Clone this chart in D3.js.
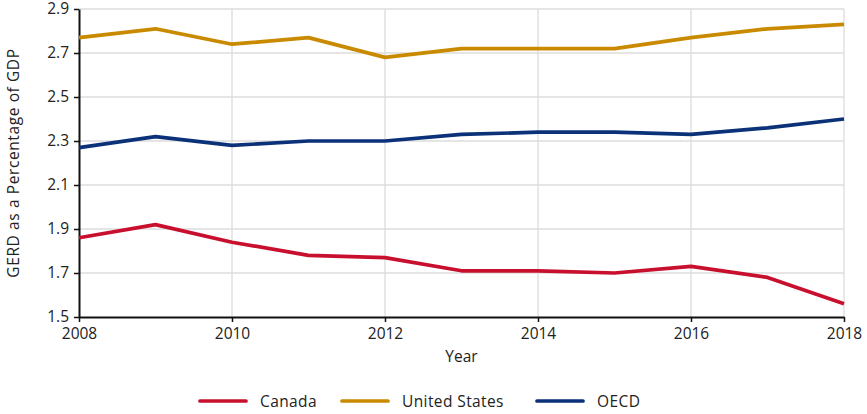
<!DOCTYPE html>
<html>
<head>
<meta charset="utf-8">
<script src="https://cdn.jsdelivr.net/npm/d3@7"></script>
<style>
  body { margin: 0; background: #fff; }
  svg text { font-family: "Open Sans", sans-serif; fill: #222; }
</style>
</head>
<body>
<svg width="867" height="414"></svg>
<script>
var years = [2008, 2009, 2010, 2011, 2012, 2013, 2014, 2015, 2016, 2017, 2018];
var canada = [1.86, 1.92, 1.84, 1.78, 1.77, 1.71, 1.71, 1.70, 1.73, 1.68, 1.56];
var unitedStates = [2.77, 2.81, 2.74, 2.77, 2.68, 2.72, 2.72, 2.72, 2.77, 2.81, 2.83];
var oecd = [2.27, 2.32, 2.28, 2.30, 2.30, 2.33, 2.34, 2.34, 2.33, 2.36, 2.40];
var yTicks = [1.5, 1.7, 1.9, 2.1, 2.3, 2.5, 2.7, 2.9];
var xTicks = [2008, 2010, 2012, 2014, 2016, 2018];

var series = [
    {name: "Canada", values: canada, color: "#c8102e"},
    {name: "United States", values: unitedStates, color: "#c98a00"},
    {name: "OECD", values: oecd, color: "#0b3279"}
];

var svg = d3.select("svg");
var margin = {left: 79, right: 23, top: 9, bottom: 97};
var width = 867 - margin.left - margin.right,
    height = 414 - margin.top - margin.bottom;

var x = d3.scaleLinear().domain([2008, 2018]).range([0, width]);
var y = d3.scaleLinear().domain([1.5, 2.9]).range([height, 0]);

var g = svg.append("g").attr("transform", "translate(" + margin.left + "," + margin.top + ")");

// gridlines
g.append("g").selectAll("line").data(yTicks.slice(1)).enter().append("line")
    .attr("x1", 0).attr("x2", width)
    .attr("y1", d => y(d)).attr("y2", d => y(d))
    .attr("stroke", "#dcdcdc").attr("stroke-width", 1.3);
g.append("g").selectAll("line").data(xTicks.slice(1)).enter().append("line")
    .attr("x1", d => x(d)).attr("x2", d => x(d))
    .attr("y1", 0).attr("y2", height)
    .attr("stroke", "#dcdcdc").attr("stroke-width", 1.3);

// axes
var xAxis = g.append("g").attr("transform", "translate(0," + height + ")")
    .call(d3.axisBottom(x).tickValues(xTicks).tickFormat(d3.format("d")).tickSize(5).tickSizeOuter(0));
var yAxis = g.append("g")
    .call(d3.axisLeft(y).tickValues(yTicks).tickFormat(d3.format(".1f")).tickSize(5).tickSizeOuter(0));

[xAxis, yAxis].forEach(function (a) {
    a.select(".domain").attr("stroke", "#111").attr("stroke-width", 2);
    a.selectAll(".tick line").attr("stroke", "#111").attr("stroke-width", 1.5);
    a.selectAll("text").style("font-size", "15.5px").style("font-family", "Open Sans, sans-serif").attr("fill", "#222");
});
xAxis.selectAll("text").attr("dy", "0.9em");
yAxis.selectAll("text").attr("x", -10);

// lines
var line = d3.line()
    .x((d, i) => x(years[i]))
    .y(d => y(d));

g.selectAll(".series").data(series).enter().append("path")
    .attr("class", "series")
    .attr("d", d => line(d.values))
    .attr("fill", "none")
    .attr("stroke", d => d.color)
    .attr("stroke-width", 3.7)
    .attr("stroke-linejoin", "round");

// axis titles
svg.append("text")
    .attr("x", margin.left + width / 2)
    .attr("y", 362)
    .attr("text-anchor", "middle")
    .style("font-size", "15.5px")
    .text("Year");

svg.append("text")
    .attr("transform", "translate(19," + (margin.top + height / 2) + ") rotate(-90)")
    .attr("text-anchor", "middle")
    .style("font-size", "15.5px")
    .style("letter-spacing", "0.6px")
    .text("GERD as a Percentage of GDP");

// legend
var legendX = [200, 342, 537];
var legend = svg.append("g");
series.forEach(function (s, i) {
    var row = legend.append("g").attr("transform", "translate(" + legendX[i] + ",401)");
    row.append("line")
        .attr("x1", 0).attr("x2", 46)
        .attr("stroke", s.color).attr("stroke-width", 3.7).attr("stroke-linecap", "round");
    row.append("text")
        .attr("x", 60).attr("y", 5.5)
        .style("font-size", "15.5px")
        .style("letter-spacing", "0.4px")
        .text(s.name);
});
</script>
</body>
</html>
